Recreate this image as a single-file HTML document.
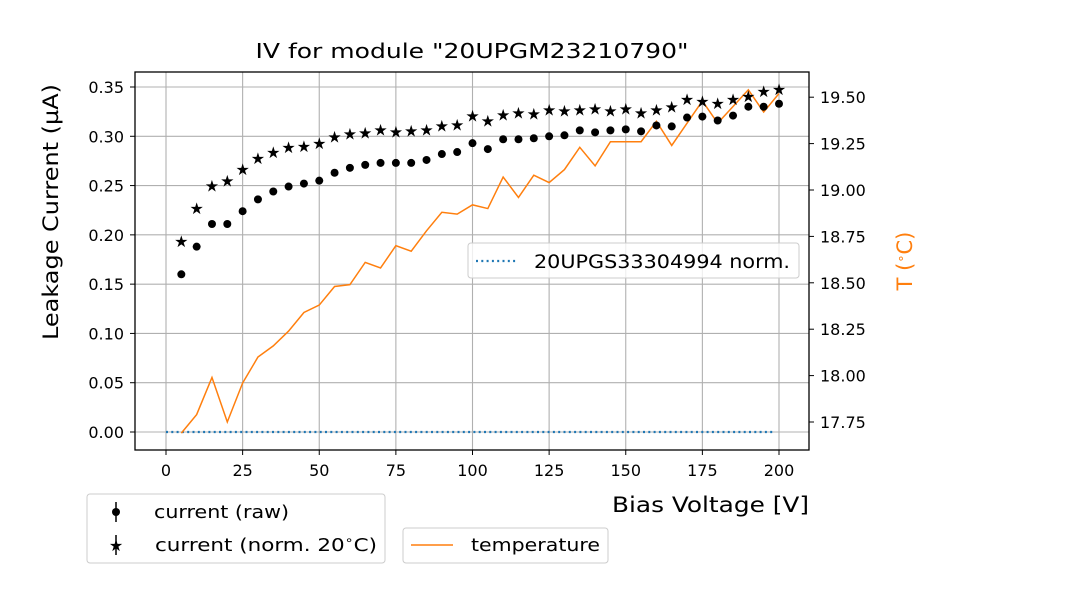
<!DOCTYPE html>
<html><head><meta charset="utf-8"><style>
body{margin:0;background:#fff}
svg{display:block;font-family:"DejaVu Sans","Liberation Sans",sans-serif}
</style></head><body>
<svg id="chart" width="1080" height="600" viewBox="0 0 1080 600" xmlns="http://www.w3.org/2000/svg">
<rect width="1080" height="600" fill="#fff"/>
<g id="grid"></g>
<g id="marks"></g>
<rect x="135" y="72" width="674" height="378" fill="none" stroke="#000" stroke-width="1.3"/>
<g id="axes"></g>
<text x="472" y="58" font-size="20" text-anchor="middle" textLength="433" lengthAdjust="spacingAndGlyphs">IV for module "20UPGM23210790"</text>
<text transform="translate(58,212) rotate(-90)" font-size="21" text-anchor="middle" textLength="256" lengthAdjust="spacingAndGlyphs">Leakage Current (µA)</text>
<text transform="translate(912,261) rotate(-90)" font-size="21" text-anchor="middle" fill="#ff7f0e">T (<tspan baseline-shift="super" font-size="13">∘</tspan>C)</text>
<text x="809" y="512" font-size="21" text-anchor="end" textLength="197" lengthAdjust="spacingAndGlyphs">Bias Voltage [V]</text>
<g>
<rect x="468" y="243" width="331" height="35" rx="3" fill="#fff" fill-opacity="0.8" stroke="#ccc"/>
<line x1="476" y1="261" x2="518" y2="261" stroke="#1f77b4" stroke-width="2.2" stroke-dasharray="2,3.3"/>
<text x="534" y="268" font-size="19" textLength="256" lengthAdjust="spacingAndGlyphs">20UPGS33304994 norm.</text>
</g>
<g>
<rect x="87" y="494" width="298" height="69" rx="3" fill="#fff" stroke="#ccc"/>
<line x1="116" y1="502" x2="116" y2="522" stroke="#000" stroke-width="1.5"/>
<circle cx="116" cy="512" r="4" fill="#000"/>
<text x="154" y="518" font-size="18" textLength="135" lengthAdjust="spacingAndGlyphs">current (raw)</text>
<line x1="116" y1="535" x2="116" y2="555" stroke="#000" stroke-width="1.5"/>
<text x="116" y="551" font-size="16" text-anchor="middle">★</text>
<text x="155" y="551" font-size="18" textLength="222" lengthAdjust="spacingAndGlyphs">current (norm. 20<tspan baseline-shift="super" font-size="12">∘</tspan>C)</text>
</g>
<g>
<rect x="403" y="528" width="205" height="35" rx="3" fill="#fff" stroke="#ccc"/>
<line x1="411" y1="545" x2="453" y2="545" stroke="#ff7f0e" stroke-width="1.5"/>
<text x="471" y="551" font-size="18" textLength="129" lengthAdjust="spacingAndGlyphs">temperature</text>
</g>
</svg>
<script>
const voltages=[5,10,15,20,25,30,35,40,45,50,55,60,65,70,75,80,85,90,95,100,105,110,115,120,125,130,135,140,145,150,155,160,165,170,175,180,185,190,195,200];
const currentRaw=[0.160,0.188,0.211,0.211,0.224,0.236,0.244,0.249,0.252,0.255,0.263,0.268,0.271,0.273,0.273,0.273,0.276,0.282,0.284,0.293,0.287,0.297,0.297,0.298,0.300,0.301,0.306,0.304,0.306,0.307,0.305,0.311,0.310,0.319,0.320,0.316,0.321,0.330,0.330,0.333];
const currentNorm=[0.194,0.227,0.250,0.255,0.267,0.278,0.284,0.289,0.290,0.293,0.300,0.303,0.304,0.307,0.305,0.306,0.307,0.311,0.312,0.321,0.316,0.322,0.324,0.323,0.327,0.326,0.327,0.328,0.326,0.328,0.324,0.327,0.330,0.338,0.336,0.334,0.338,0.341,0.346,0.348];
const temperature=[17.69,17.79,17.99,17.75,17.96,18.10,18.16,18.24,18.34,18.38,18.48,18.49,18.61,18.58,18.70,18.67,18.78,18.88,18.87,18.92,18.90,19.07,18.96,19.08,19.04,19.11,19.23,19.13,19.26,19.26,19.26,19.37,19.24,19.36,19.48,19.36,19.45,19.54,19.42,19.52];
const refRange=[0,198];
const refValue=[0,0];
const xTicks=[0,25,50,75,100,125,150,175,200];
const yTicks=[0,0.05,0.10,0.15,0.20,0.25,0.30,0.35];
const y2Ticks=[17.75,18.00,18.25,18.50,18.75,19.00,19.25,19.50];

const NS='http://www.w3.org/2000/svg';
const X=v=>166+v*(779-166)/200;
const Y=v=>432-v*(432-87)/0.35;
const Y2=v=>422-(v-17.75)*185.6;
function mk(tag,attrs,parent){const e=document.createElementNS(NS,tag);for(const k in attrs)e.setAttribute(k,attrs[k]);parent.appendChild(e);return e;}
const grid=document.getElementById('grid'),marks=document.getElementById('marks'),axes=document.getElementById('axes');

xTicks.forEach(t=>{
  const g=mk('line',{x1:X(t),x2:X(t),y1:72,y2:450,stroke:'#b0b0b0','stroke-width':1.1},grid);
  
  
  mk('line',{x1:X(t),x2:X(t),y1:450,y2:455,stroke:'#000'},axes);
  const l=mk('text',{x:X(t),y:476,'font-size':16,'text-anchor':'middle'},axes);
  l.textContent=t;
  
  
});
yTicks.forEach(t=>{
  const g=mk('line',{x1:135,x2:809,y1:Y(t),y2:Y(t),stroke:'#b0b0b0','stroke-width':1.1},grid);
  
  
  mk('line',{x1:130,x2:135,y1:Y(t),y2:Y(t),stroke:'#000'},axes);
  const l=mk('text',{x:124,y:Y(t)+6,'font-size':16,'text-anchor':'end'},axes);
  l.textContent=t.toFixed(2);
  
  
});
y2Ticks.forEach(t=>{
  mk('line',{x1:809,x2:814,y1:Y2(t),y2:Y2(t),stroke:'#000'},axes);
  const l=mk('text',{x:820,y:Y2(t)+6,'font-size':16},axes);
  l.textContent=t.toFixed(2);
  
  
});

const ref=mk('line',{x1:X(refRange[0]),x2:X(refRange[1]),y1:Y(refValue[0]),y2:Y(refValue[1]),stroke:'#1f77b4','stroke-width':2.2,'stroke-dasharray':'2,3.3'},marks);



const tl=mk('polyline',{points:voltages.map((v,i)=>X(v)+','+Y2(temperature[i])).join(' '),fill:'none',stroke:'#ff7f0e','stroke-width':1.5},marks);



voltages.forEach((v,i)=>{
  const c=mk('circle',{cx:X(v),cy:Y(currentRaw[i]),r:4,fill:'#000'},marks);
  
  
  const s=mk('text',{x:X(v),y:Y(currentNorm[i])+6,'font-size':16,'text-anchor':'middle'},marks);
  s.textContent='★';
  
  
});
</script>
</body></html>
